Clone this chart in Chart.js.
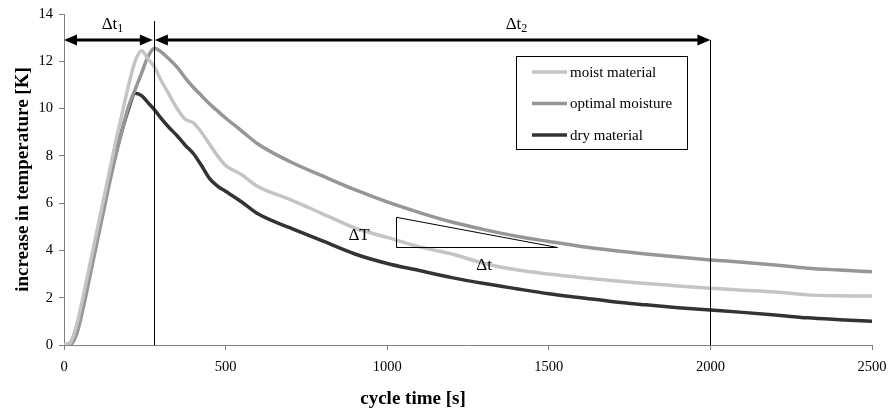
<!DOCTYPE html>
<html>
<head>
<meta charset="utf-8">
<script src="https://cdn.jsdelivr.net/npm/chart.js@4.4.1/dist/chart.umd.min.js"></script>
<style>
  html, body { margin: 0; padding: 0; background: #fff; }
  #wrap { width: 890px; height: 414px; }
</style>
</head>
<body>
<div id="wrap"><canvas id="chart" width="890" height="414"></canvas></div>
<script>
// cycle time [s]
const cycleTime = [0, 20, 40, 60, 80, 100, 120, 140, 160, 180, 200, 220, 240, 260, 280, 300,
    325, 350, 375, 400, 425, 450, 475, 500, 550, 600,
    700, 800, 900, 1000, 1100, 1200, 1300, 1400, 1500, 1600, 1700, 1800, 1900, 2000, 2100, 2200, 2300, 2400, 2500];
// increase in temperature [K]
const moistMaterial = [0, 0.1, 0.9, 2.1, 3.4, 4.7, 6.0, 7.3, 8.6, 9.8, 11.0, 12.0, 12.45, 12.1, 11.75, 11.2,
    10.6, 10.0, 9.55, 9.4, 9.0, 8.5, 8.0, 7.6, 7.2, 6.7,
    6.15, 5.55, 4.95, 4.55, 4.15, 3.85, 3.45, 3.18, 3.0, 2.85, 2.72, 2.6, 2.5, 2.4, 2.32, 2.24, 2.12, 2.08, 2.07];
const optimalMoisture = [0, 0.02, 0.5, 1.6, 2.9, 4.2, 5.5, 6.8, 8.0, 9.1, 10.1, 10.8, 11.5, 12.2, 12.55, 12.4,
    12.1, 11.75, 11.3, 10.9, 10.55, 10.2, 9.9, 9.6, 9.05, 8.5,
    7.75, 7.15, 6.57, 6.05, 5.6, 5.2, 4.88, 4.6, 4.38, 4.17, 4.0, 3.85, 3.72, 3.6, 3.5, 3.38, 3.25, 3.17, 3.1];
const dryMaterial = [0, 0.1, 0.8, 1.9, 3.2, 4.5, 5.8, 7.0, 8.1, 9.1, 10.0, 10.65, 10.55, 10.25, 9.95, 9.6,
    9.2, 8.85, 8.45, 8.1, 7.6, 7.05, 6.72, 6.5, 6.05, 5.55,
    4.95, 4.4, 3.85, 3.45, 3.15, 2.85, 2.6, 2.38, 2.17, 2.0, 1.83, 1.7, 1.58, 1.48, 1.38, 1.27, 1.15, 1.07, 1.0];
const seriesNames = ['moist material', 'optimal moisture', 'dry material'];
const seriesColors = ['#c4c4c4', '#969696', '#333333'];

// annotation marks, in data units
const peakTime = 278;
const endTime = 2000;
const arrowLevel = 12.9;
const slopeTri = { t0: 1027, t1: 1527, top: 5.4, bottom: 4.16 };

const serif = "'Liberation Serif', 'Times New Roman', serif";

function toPoints(ys) {
    return cycleTime.map((t, i) => ({ x: t, y: ys[i] }));
}

function arrowHead(ctx, x, y, dir) {
    ctx.beginPath();
    ctx.moveTo(x, y);
    ctx.lineTo(x - dir * 13, y - 5.5);
    ctx.lineTo(x - dir * 13, y + 5.5);
    ctx.closePath();
    ctx.fill();
}

function deltaLabel(ctx, x, y, sub) {
    ctx.font = '12px ' + serif;
    const ws = sub ? ctx.measureText(sub).width : 0;
    ctx.font = '17px ' + serif;
    ctx.textBaseline = 'middle';
    ctx.textAlign = 'left';
    const w = ctx.measureText('\u0394t').width;
    const x0 = x - (w + ws) / 2;
    ctx.fillText('\u0394t', x0, y);
    if (sub) {
        ctx.font = '12px ' + serif;
        ctx.fillText(sub, x0 + w, y + 4);
    }
}

const annotations = {
    id: 'annotations',
    afterDatasetsDraw(chart) {
        const ctx = chart.ctx;
        const xs = chart.scales.x, ys = chart.scales.y;
        const px = v => xs.getPixelForValue(v);
        const py = v => ys.getPixelForValue(v);
        ctx.save();
        ctx.strokeStyle = '#000';
        ctx.fillStyle = '#000';

        // vertical markers
        ctx.lineWidth = 1;
        ctx.beginPath();
        ctx.moveTo(Math.round(px(peakTime)) + 0.5, py(13.7));
        ctx.lineTo(Math.round(px(peakTime)) + 0.5, py(0));
        ctx.moveTo(Math.round(px(endTime)) + 0.5, py(arrowLevel));
        ctx.lineTo(Math.round(px(endTime)) + 0.5, py(0));
        ctx.stroke();

        // double arrows
        const ay = py(arrowLevel);
        ctx.lineWidth = 3;
        ctx.beginPath();
        ctx.moveTo(px(0) + 10, ay);
        ctx.lineTo(px(peakTime) - 10, ay);
        ctx.moveTo(px(peakTime) + 10, ay);
        ctx.lineTo(px(endTime) - 10, ay);
        ctx.stroke();
        arrowHead(ctx, px(0), ay, -1);
        arrowHead(ctx, px(peakTime) - 1, ay, 1);
        arrowHead(ctx, px(peakTime) + 1, ay, -1);
        arrowHead(ctx, px(endTime), ay, 1);

        deltaLabel(ctx, px(150), py(13.55), '1');
        deltaLabel(ctx, px(1400), py(13.55), '2');

        // slope triangle
        ctx.lineWidth = 1;
        ctx.beginPath();
        ctx.moveTo(Math.round(px(slopeTri.t0)) + 0.5, py(slopeTri.top));
        ctx.lineTo(Math.round(px(slopeTri.t0)) + 0.5, Math.round(py(slopeTri.bottom)) + 0.5);
        ctx.lineTo(px(slopeTri.t1), Math.round(py(slopeTri.bottom)) + 0.5);
        ctx.closePath();
        ctx.stroke();

        ctx.font = '17px ' + serif;
        ctx.textAlign = 'center';
        ctx.textBaseline = 'middle';
        ctx.fillText('\u0394T', px(913), py(4.65));
        deltaLabel(ctx, px(1300), py(3.38), '');

        // legend box
        const lx = 516, ly = 56, lw = 171, lh = 93;
        ctx.lineWidth = 1;
        ctx.strokeRect(lx + 0.5, ly + 0.5, lw, lh);
        ctx.font = '15px ' + serif;
        ctx.textAlign = 'left';
        ctx.textBaseline = 'middle';
        chart.data.datasets.forEach((ds, i) => {
            const yy = ly + 16 + i * 31.5;
            ctx.strokeStyle = ds.borderColor;
            ctx.lineWidth = 3.5;
            ctx.beginPath();
            ctx.moveTo(lx + 16, yy);
            ctx.lineTo(lx + 51, yy);
            ctx.stroke();
            ctx.fillStyle = '#000';
            ctx.fillText(ds.label, lx + 54, yy + 1);
        });

        // x axis title
        ctx.font = 'bold 19px ' + serif;
        ctx.textAlign = 'center';
        ctx.fillText('cycle time [s]', 413, 399);
        ctx.restore();
    }
};

const ctx = document.getElementById('chart').getContext('2d');
const chart = new Chart(ctx, {
    type: 'line',
    data: {
        datasets: [moistMaterial, optimalMoisture, dryMaterial].map((ys, i) => ({
            label: seriesNames[i],
            data: toPoints(ys),
            borderColor: seriesColors[i],
            borderWidth: 3.5,
            pointRadius: 0,
            fill: false,
            cubicInterpolationMode: 'monotone'
        }))
    },
    options: {
        responsive: false,
        animation: false,
        layout: { padding: { left: 0, top: 14, right: 18, bottom: 0 } },
        plugins: { legend: { display: false }, tooltip: { enabled: false } },
        scales: {
            x: {
                type: 'linear',
                min: 0,
                max: 2500,
                afterFit: s => { s.height = 69; s.paddingLeft = 0; s.paddingRight = 0; },
                ticks: { stepSize: 500, color: '#000', padding: 8, maxRotation: 0, callback: v => String(v),
                    font: { family: serif, size: 14.5 } },
                grid: { drawOnChartArea: false, drawTicks: true, tickLength: 5, color: '#808080' },
                border: { color: '#808080', width: 1 }
            },
            y: {
                min: 0,
                max: 14,
                afterFit: s => { s.width = 64; s.paddingTop = 0; s.paddingBottom = 0; },
                ticks: { stepSize: 2, color: '#000', padding: 6, font: { family: serif, size: 14.5 } },
                grid: { drawOnChartArea: false, drawTicks: true, tickLength: 5, color: '#808080' },
                border: { color: '#808080', width: 1 },
                title: {
                    display: true,
                    text: 'increase in temperature [K]',
                    color: '#000',
                    font: { family: serif, size: 19, weight: 'bold' },
                    padding: { top: 12, bottom: 0 }
                }
            }
        }
    },
    plugins: [annotations]
});
</script>
</body>
</html>
